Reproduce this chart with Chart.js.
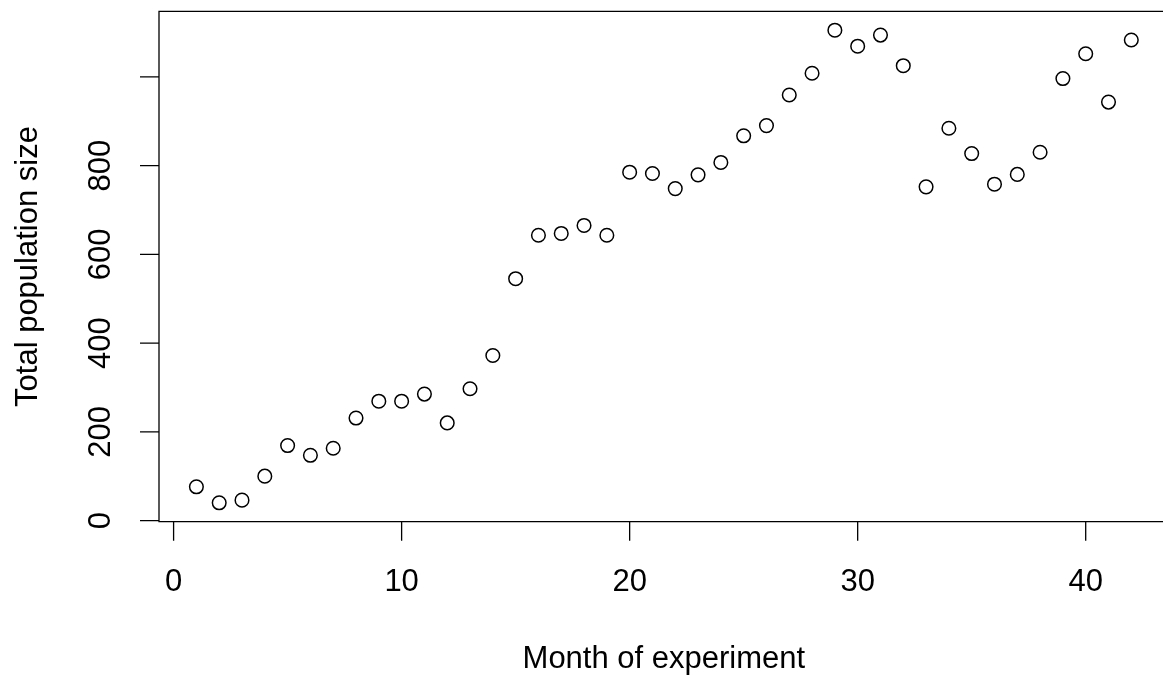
<!DOCTYPE html>
<html>
<head>
<meta charset="utf-8">
<title>Total population size by month</title>
<script src="https://cdn.jsdelivr.net/npm/chart.js@4/dist/chart.umd.min.js"></script>
<style>
  html, body { margin: 0; padding: 0; background: #ffffff; overflow: hidden; }
  #wrap { width: 1163px; height: 679px; }
</style>
</head>
<body>
<div id="wrap"><canvas id="chart" width="1163" height="679"></canvas></div>
<script>
// Month of the experiment (1..42) and the total population counted that month
const months = [1, 2, 3, 4, 5, 6, 7, 8, 9, 10, 11, 12, 13, 14, 15, 16, 17, 18, 19, 20, 21,
                22, 23, 24, 25, 26, 27, 28, 29, 30, 31, 32, 33, 34, 35, 36, 37, 38, 39, 40, 41, 42];
const population = [76, 40, 46, 100, 169, 147, 163, 231, 269, 269, 285, 220, 297, 372,
                    545, 643, 647, 665, 643, 785, 782, 748, 779, 807, 867, 890, 959, 1008,
                    1105, 1069, 1094, 1025, 752, 884, 827, 758, 780, 830, 996, 1052, 943, 1083];

// Axis ticks and the labels printed next to them
const xTicks = [0, 10, 20, 30, 40];
const yTicks = [0, 200, 400, 600, 800, 1000];
const yTickLabels = ['0', '200', '400', '600', '800', ''];

const xTitle = 'Month of experiment';
const yTitle = 'Total population size';

// Axis ranges padded by 4% on each side, like a base-graphics plot
function paddedRange(values) {
  const lo = Math.min(...values), hi = Math.max(...values);
  const pad = (hi - lo) * 0.04;
  return [lo - pad, hi + pad];
}
const [xMin, xMax] = paddedRange(months);
const [yMin, yMax] = paddedRange(population);

// The plotting frame is 1009.7 px wide but the page is cut off at 1004 px
// from its left edge, so the x scale stops at the value sitting at that cut.
const FRAME_LEFT = 159, FRAME_WIDTH = 1009.7, CANVAS_W = 1163;
const xVisibleMax = xMin + (xMax - xMin) * (CANVAS_W - FRAME_LEFT) / FRAME_WIDTH;

const FONT = '31px "Liberation Sans", Arial, Helvetica, sans-serif';

// Draws the frame, tick marks and text around the plotting region
const basePlotAxes = {
  id: 'basePlotAxes',
  afterDraw(chart) {
    const ctx = chart.ctx;
    const area = chart.chartArea;
    const xs = chart.scales.x, ys = chart.scales.y;
    const tick = 19;
    const centerX = area.left + FRAME_WIDTH / 2;

    ctx.save();
    ctx.strokeStyle = '#000000';
    ctx.fillStyle = '#000000';
    ctx.lineWidth = 1.3;

    // frame: top, left and bottom sides (the right side lies past the edge)
    ctx.beginPath();
    ctx.moveTo(area.right + 2, area.top);
    ctx.lineTo(area.left, area.top);
    ctx.lineTo(area.left, area.bottom);
    ctx.lineTo(area.right + 2, area.bottom);
    ctx.stroke();

    // x axis
    ctx.beginPath();
    xTicks.forEach(v => {
      const px = xs.getPixelForValue(v);
      ctx.moveTo(px, area.bottom);
      ctx.lineTo(px, area.bottom + tick);
    });
    ctx.stroke();
    ctx.font = FONT;
    ctx.textAlign = 'center';
    ctx.textBaseline = 'alphabetic';
    xTicks.forEach(v => {
      ctx.fillText(String(v), xs.getPixelForValue(v), area.bottom + 69.5);
    });
    ctx.fillText(xTitle, centerX, area.bottom + 146);

    // y axis
    ctx.beginPath();
    yTicks.forEach(v => {
      const py = ys.getPixelForValue(v);
      ctx.moveTo(area.left, py);
      ctx.lineTo(area.left - tick, py);
    });
    ctx.stroke();
    yTicks.forEach((v, i) => {
      const label = yTickLabels[i];
      if (!label) return;
      ctx.save();
      ctx.translate(area.left - 49, ys.getPixelForValue(v));
      ctx.rotate(-Math.PI / 2);
      ctx.fillText(label, 0, 0);
      ctx.restore();
    });
    ctx.save();
    ctx.translate(area.left - 122.5, (area.top + area.bottom) / 2);
    ctx.rotate(-Math.PI / 2);
    ctx.fillText(yTitle, 0, 0);
    ctx.restore();

    ctx.restore();
  }
};

new Chart(document.getElementById('chart'), {
  type: 'scatter',
  data: {
    datasets: [{
      data: months.map((m, i) => ({ x: m, y: population[i] })),
      pointStyle: 'circle',
      pointRadius: 6.8,
      pointBorderWidth: 1.5,
      pointBorderColor: '#000000',
      pointBackgroundColor: 'rgba(0,0,0,0)',
      showLine: false
    }]
  },
  options: {
    responsive: false,
    animation: false,
    devicePixelRatio: 1,
    layout: {
      autoPadding: false,
      padding: { left: FRAME_LEFT, top: 11.3, right: 0, bottom: 157.3 }
    },
    scales: {
      x: { type: 'linear', min: xMin, max: xVisibleMax, display: false },
      y: { type: 'linear', min: yMin, max: yMax, display: false }
    },
    plugins: {
      legend: { display: false },
      tooltip: { enabled: false },
      title: { display: false }
    }
  },
  plugins: [basePlotAxes]
});
</script>
</body>
</html>
